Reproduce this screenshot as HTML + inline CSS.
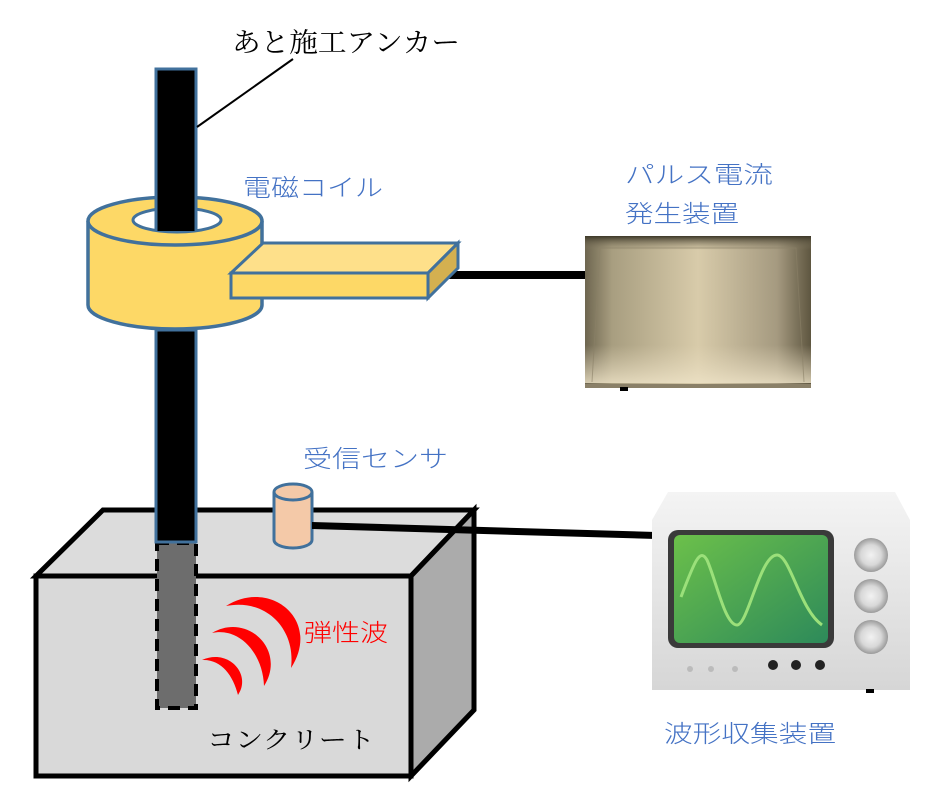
<!DOCTYPE html>
<html><head><meta charset="utf-8"><style>
html,body{margin:0;padding:0;background:#fff;}
svg{display:block;}
.s{font-family:"Liberation Serif","Noto Serif CJK SC",serif;}
.b{font-family:"Liberation Sans","Noto Sans CJK JP",sans-serif;font-weight:300;}
</style></head><body>
<svg width="949" height="803" viewBox="0 0 949 803" xmlns="http://www.w3.org/2000/svg">
<defs>
<linearGradient id="pg" x1="0" x2="1" y1="0" y2="0">
<stop offset="0" stop-color="#6e6650"/><stop offset="0.12" stop-color="#a89e80"/><stop offset="0.5" stop-color="#d8cbaa"/><stop offset="0.85" stop-color="#a59a80"/><stop offset="1" stop-color="#5e5640"/>
</linearGradient>
<linearGradient id="pg2" x1="0" x2="0" y1="0" y2="1">
<stop offset="0" stop-color="#3d3828"/><stop offset="1" stop-color="#8a8068" stop-opacity="0"/>
</linearGradient>
<linearGradient id="pg3" x1="0" x2="0" y1="0" y2="1">
<stop offset="0" stop-color="#e8dcc0" stop-opacity="0"/><stop offset="1" stop-color="#efe4c8" stop-opacity="0.8"/>
</linearGradient>
<linearGradient id="sc" x1="0" x2="1" y1="0" y2="1">
<stop offset="0" stop-color="#6cc04a"/><stop offset="1" stop-color="#2d8a5a"/>
</linearGradient>
<linearGradient id="osc" x1="0" x2="0" y1="0" y2="1">
<stop offset="0" stop-color="#f4f4f4"/><stop offset="1" stop-color="#d6d6d6"/>
</linearGradient>
<radialGradient id="kn"><stop offset="0" stop-color="#f2f2f2"/><stop offset="0.6" stop-color="#d8d8d8"/><stop offset="1" stop-color="#9a9a9a"/></radialGradient>
</defs>

<polygon points="36,576 103,510 474,510 411,576" fill="#dcdcdc" stroke="#000" stroke-width="5"/>
<polygon points="411,576 474,510 474,710 411,776" fill="#ababab" stroke="#000" stroke-width="5"/>
<rect x="36" y="576" width="375" height="200" fill="#d9d9d9" stroke="#000" stroke-width="5"/>

<rect x="157" y="543" width="39" height="165" fill="#6d6d6d" stroke="#000" stroke-width="4" stroke-dasharray="12,8"/>
<rect x="156" y="330" width="40" height="212" fill="#000" stroke="#41719c" stroke-width="3"/>

<path d="M226,606 C270,578 322,620 291,668 C296,628 265,598 226,606 Z" fill="#f00"/>
<path d="M212,633 C247,612 287,650 264,686 C263,654 240,627 212,633 Z" fill="#f00"/>
<path d="M202,660 C229,648 252,675 238,695 C233,675 221,659 202,660 Z" fill="#f00"/>

<path d="M274,492 L274,540 A19,8 0 0 0 312,540 L312,492" fill="#f4c9a8" stroke="#41719c" stroke-width="3"/>
<ellipse cx="293" cy="492" rx="19" ry="8" fill="#f4c9a8" stroke="#41719c" stroke-width="3"/>
<polygon points="312,522 656,532 656,539 312,529" fill="#000"/>

<path d="M88,221 L88,305 A87,24 0 0 0 262,305 L262,221" fill="#fdd866" stroke="#41719c" stroke-width="3.5"/>
<ellipse cx="175" cy="221" rx="87" ry="24" fill="#fdd866" stroke="#41719c" stroke-width="3.5"/>
<ellipse cx="177" cy="220" rx="44" ry="12" fill="#fff" stroke="#41719c" stroke-width="3"/>
<path d="M156,231 L156,69 L196,69 L196,231" fill="#000" stroke="#41719c" stroke-width="3"/>
<rect x="445" y="271" width="141" height="8" fill="#000"/>
<polygon points="231,273 263,243 458,243 428,273" fill="#fee08a" stroke="#41719c" stroke-width="3"/>
<polygon points="428,273 458,243 458,268 428,298" fill="#d4b050" stroke="#41719c" stroke-width="3"/>
<rect x="231" y="273" width="197" height="25" fill="#fdd866" stroke="#41719c" stroke-width="3"/>

<rect x="585" y="236" width="226" height="152" fill="url(#pg)"/>
<rect x="585" y="236" width="226" height="14" fill="url(#pg2)"/>
<rect x="585" y="345" width="226" height="38" fill="url(#pg3)"/>
<polyline points="592,382 600,248 796,248 804,382" fill="none" stroke="#8a8068" stroke-width="1" opacity="0.6"/>
<rect x="585" y="384" width="226" height="4" fill="#8a8068"/>
<rect x="620" y="387" width="8" height="4" fill="#000"/>

<path d="M668,492 L895,492 L910,520 L910,690 L652,690 L652,520 Z" fill="url(#osc)"/>
<rect x="668" y="530" width="166" height="118" rx="10" fill="#3a3a3a"/>
<rect x="674" y="535" width="154" height="108" rx="6" fill="url(#sc)"/>
<path d="M681,597 C695,560 700,548 707,560 C716,580 725,625 737,625 C748,625 760,555 777,555 C790,555 800,610 822,625" fill="none" stroke="#9be07a" stroke-width="3"/>
<circle cx="871" cy="555" r="17" fill="url(#kn)"/>
<circle cx="871" cy="596" r="17" fill="url(#kn)"/>
<circle cx="871" cy="637" r="17" fill="url(#kn)"/>
<circle cx="773" cy="665" r="5" fill="#222"/>
<circle cx="796" cy="665" r="5" fill="#222"/>
<circle cx="820" cy="665" r="5" fill="#222"/>
<circle cx="690" cy="669" r="3" fill="#bbb"/><circle cx="711" cy="669" r="3" fill="#bbb"/><circle cx="735" cy="669" r="3" fill="#bbb"/>
<rect x="866" y="689" width="8" height="4" fill="#000"/>

<line x1="293" y1="59" x2="197" y2="127" stroke="#000" stroke-width="2"/>

<text class="s" x="232" y="52" font-size="27" fill="#000" textLength="228" lengthAdjust="spacingAndGlyphs">あと施工アンカー</text>
<text class="b" x="243" y="196" font-size="24" fill="#4472c4" textLength="140" lengthAdjust="spacingAndGlyphs">電磁コイル</text>
<text class="b" x="625" y="183" font-size="24" fill="#4472c4" textLength="148" lengthAdjust="spacingAndGlyphs">パルス電流</text>
<text class="b" x="625" y="222" font-size="24" fill="#4472c4" textLength="114" lengthAdjust="spacingAndGlyphs">発生装置</text>
<text class="b" x="303" y="467" font-size="24" fill="#4472c4" textLength="145" lengthAdjust="spacingAndGlyphs">受信センサ</text>
<text class="b" x="304" y="641" font-size="24" fill="#f00" textLength="84" lengthAdjust="spacingAndGlyphs">弾性波</text>
<text class="s" x="207" y="748" font-size="24" fill="#000" textLength="168" lengthAdjust="spacingAndGlyphs">コンクリート</text>
<text class="b" x="664" y="742" font-size="24" fill="#4472c4" textLength="172" lengthAdjust="spacingAndGlyphs">波形収集装置</text>
</svg>
</body></html>
